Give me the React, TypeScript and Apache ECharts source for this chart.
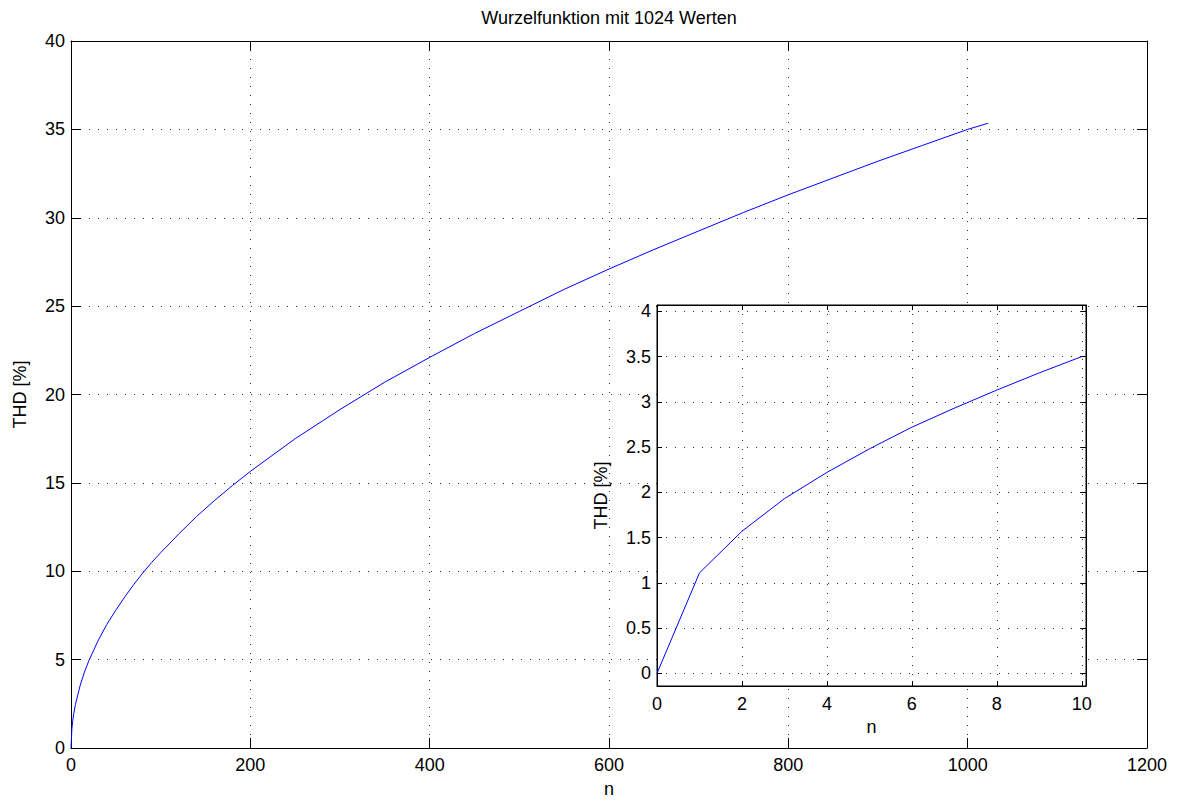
import React, { useEffect, useRef } from "react";
import * as echarts from "echarts";

const titleText = "Wurzelfunktion mit 1024 Werten";
const xName = "n";
const yName = "THD [%]";

// main curve: values at selected n
const mainN = [0, 1, 2, 3, 5, 10, 15, 20, 30, 40, 50, 60, 70, 80, 90, 100, 120, 140, 160, 180, 200, 250, 300, 350, 400, 450, 500, 550, 600, 650, 700, 750, 800, 850, 900, 950, 1000, 1023];
const mainTHD = [0, 1.1, 1.57, 1.93, 2.47, 3.5, 4.3, 4.95, 6.05, 7.0, 7.8, 8.55, 9.25, 9.9, 10.5, 11.05, 12.1, 13.1, 14.0, 14.85, 15.65, 17.5, 19.15, 20.7, 22.1, 23.45, 24.7, 25.95, 27.1, 28.2, 29.25, 30.3, 31.3, 32.25, 33.2, 34.1, 35.0, 35.35];

// inset: first 11 values
const insetN = [0, 1, 2, 3, 4, 5, 6, 7, 8, 9, 10];
const insetTHD = [0, 1.11, 1.57, 1.93, 2.22, 2.48, 2.72, 2.93, 3.13, 3.32, 3.5];

const FONT = "'Liberation Sans', Arial, Helvetica, sans-serif";
const FS = 18;

const gridLine = { show: true, lineStyle: { color: "#333", type: [1, 8] as any, width: 1 } };

function fmtMult(step: number) {
  return (v: number) => {
    const r = v / step;
    return Math.abs(r - Math.round(r)) < 1e-6 ? String(+v.toFixed(2)) : "";
  };
}

export default function App() {
  const ref = useRef<HTMLDivElement>(null);
  useEffect(() => {
    const chart = echarts.init(ref.current!, undefined, { renderer: "svg" });
    const label = { color: "#000", fontSize: FS, fontFamily: FONT };
    const axisLine = { show: true, onZero: false, lineStyle: { color: "#000", width: 1 } };
    const option: any = {
      animation: false,
      backgroundColor: "#fff",
      graphic: [
        {
          type: "text",
          x: 609,
          y: 9,
          style: { text: titleText, fill: "#000", font: `${FS}px ${FONT}`, textAlign: "center", textVerticalAlign: "top" },
        },
      ],
      grid: [
        { left: 71, right: 31, top: 41, bottom: 49, show: false },
        { left: 657, top: 305, width: 429, height: 381, show: true, backgroundColor: "#fff", borderColor: "#000", borderWidth: 1, z: 10 },
      ],
      xAxis: [
        {
          type: "value", gridIndex: 0, position: "bottom", min: 0, max: 1200, interval: 200,
          axisLine, axisTick: { inside: true, length: 10, lineStyle: { color: "#000" } },
          axisLabel: { ...label, margin: 8, formatter: (v: number) => String(v) }, splitLine: gridLine,
          name: xName, nameLocation: "middle", nameGap: 32, nameTextStyle: label,
        },
        {
          type: "value", gridIndex: 0, position: "top", min: 0, max: 1200, interval: 200,
          axisLine, axisTick: { inside: true, length: 10, lineStyle: { color: "#000" } },
          axisLabel: { show: false }, splitLine: { show: false },
        },
        {
          type: "value", gridIndex: 1, position: "bottom", min: 0, max: 10.1, interval: 2, z: 11,
          axisLine, axisTick: { inside: true, length: 5, lineStyle: { color: "#000" } },
          axisLabel: { ...label, margin: 9, formatter: fmtMult(2) }, splitLine: gridLine,
          name: xName, nameLocation: "middle", nameGap: 32, nameTextStyle: label,
        },
        {
          type: "value", gridIndex: 1, position: "top", min: 0, max: 10.1, interval: 2, z: 11,
          axisLine, axisTick: { inside: true, length: 5, lineStyle: { color: "#000" } },
          axisLabel: { show: false }, splitLine: { show: false },
        },
      ],
      yAxis: [
        {
          type: "value", gridIndex: 0, position: "left", min: 0, max: 40, interval: 5,
          axisLine, axisTick: { inside: true, length: 10, lineStyle: { color: "#000" } },
          axisLabel: { ...label, margin: 6 }, splitLine: gridLine,
          name: yName, nameLocation: "middle", nameGap: 42, nameTextStyle: label,
        },
        {
          type: "value", gridIndex: 0, position: "right", min: 0, max: 40, interval: 5,
          axisLine, axisTick: { inside: true, length: 10, lineStyle: { color: "#000" } },
          axisLabel: { show: false }, splitLine: { show: false },
        },
        {
          type: "value", gridIndex: 1, position: "left", min: -0.14, max: 4.07, splitNumber: 8, z: 11,
          axisLine, axisTick: { inside: true, length: 5, lineStyle: { color: "#000" } },
          axisLabel: { ...label, margin: 6, formatter: fmtMult(0.5) }, splitLine: gridLine,
          name: yName, nameLocation: "middle", nameGap: 47, nameTextStyle: label,
        },
        {
          type: "value", gridIndex: 1, position: "right", min: -0.14, max: 4.07, splitNumber: 8, z: 11,
          axisLine, axisTick: { inside: true, length: 5, lineStyle: { color: "#000" } },
          axisLabel: { show: false }, splitLine: { show: false },
        },
      ],
      series: [
        {
          type: "line", xAxisIndex: 0, yAxisIndex: 0, showSymbol: false, symbol: "none",
          data: mainN.map((n, i) => [n, mainTHD[i]]),
          lineStyle: { color: "#0000ff", width: 1 }, z: 3,
        },
        {
          type: "line", xAxisIndex: 2, yAxisIndex: 2, showSymbol: false, symbol: "none",
          data: insetN.map((n, i) => [n, insetTHD[i]]),
          lineStyle: { color: "#0000ff", width: 1 }, z: 12,
        },
      ],
    };
    chart.setOption(option);
    return () => chart.dispose();
  }, []);
  return <div ref={ref} style={{ position: "fixed", left: 0, top: 0, width: 1178, height: 803 }} />;
}
